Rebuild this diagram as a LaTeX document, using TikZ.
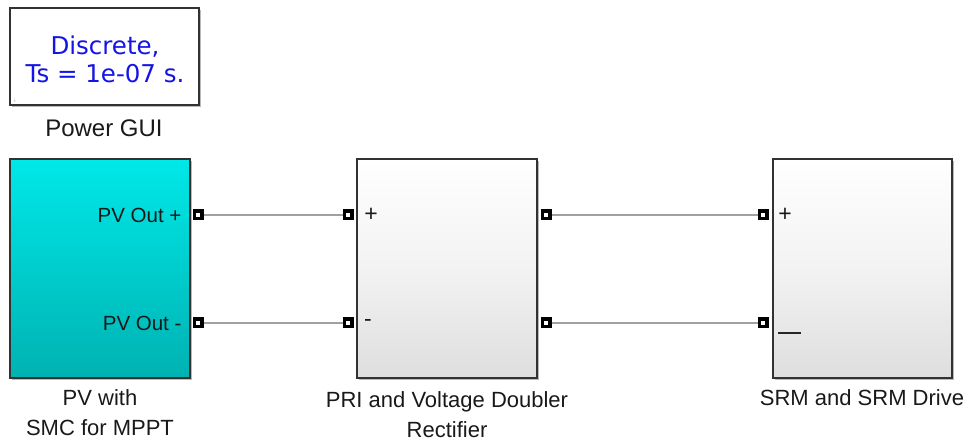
\documentclass[tikz,border=0pt]{standalone}
\usepackage{fontspec}
\setmainfont{Liberation Sans}
\newfontfamily\guifont{DejaVu Sans}
\usetikzlibrary{shadows}
\definecolor{guiblue}{RGB}{20,20,230}
\definecolor{cyantop}{RGB}{0,232,232}
\definecolor{cyanbot}{RGB}{0,178,178}
\definecolor{wirecol}{RGB}{160,160,160}
\definecolor{bordercol}{RGB}{50,50,50}
\tikzset{
  x=1pt,y=1pt,
  blk/.style={draw=bordercol, line width=1.3pt, minimum width=180pt, minimum height=219pt, inner sep=0pt,
    drop shadow={shadow xshift=2pt, shadow yshift=-2pt, fill=gray!55, opacity=1}},
  cyanblk/.style={blk, top color=cyantop, bottom color=cyanbot},
  whiteblk/.style={blk, top color=white, bottom color=black!13, middle color=white!95!black},
  port/.style={draw=black, fill=white, line width=3.5pt, minimum size=7.5pt, inner sep=0pt},
  wire/.style={draw=wirecol, line width=1.6pt},
  blklabel/.style={font=\fontsize{22}{30}\selectfont, align=center, text=black!90},
  portlabel/.style={font=\fontsize{20.5}{24}\selectfont, text=black!90},
  signlabel/.style={font=\fontsize{23}{24}\selectfont, text=black!90},
}
\begin{document}
\begin{tikzpicture}
\useasboundingbox (0,0) rectangle (969,446);
% Power GUI
\node[draw=bordercol, line width=1.3pt, fill=white, minimum width=189pt, minimum height=97pt, inner sep=0pt,
  drop shadow={shadow xshift=2pt, shadow yshift=-2pt, fill=gray!55, opacity=1}] (gui) at (104.5,389.5) {};
\node[font=\guifont\fontsize{24.5}{28}\selectfont, text=guiblue, align=center] (guitxt) at (105,387) {Discrete,\\Ts = 1e-07 s.};
\node[font=\fontsize{5}{5}\selectfont, text=gray!60] (guiarrow) at (15,346) {$\downarrow$};
\node[font=\fontsize{24}{28}\selectfont, text=black!90] (guilabel) at (104,318) {Power GUI};
% Blocks
\node[cyanblk] (pv) at (100,177.5) {};
\node[whiteblk] (pri) at (447,177.5) {};
\node[whiteblk, minimum width=179pt] (srm) at (862.5,177.5) {};
% Block labels
\node[blklabel] (pvlab) at (100,33) {PV with\\SMC for MPPT};
\node[blklabel] (prilab) at (447,31) {PRI and Voltage Doubler\\Rectifier};
\node[blklabel] (srmlab) at (862,48) {SRM and SRM Drive};
% Ports
\node[port] (pvp) at (198,231) {};
\node[port] (pvm) at (198,123) {};
\node[port] (prip) at (348,231) {};
\node[port] (prim) at (348,123) {};
\node[port] (prio1) at (546,231) {};
\node[port] (prio2) at (546,123) {};
\node[port] (srmp) at (763,231) {};
\node[port] (srmm) at (763,123) {};
% Port labels
\node[portlabel, anchor=east] (l1) at (185,231) {PV Out +};
\node[portlabel, anchor=east] (l2) at (185,123) {PV Out -};
\node[signlabel] (l3) at (371,231) {+};
\node[signlabel] (l4) at (368,123) {-};
\node[signlabel] (l5) at (785,231) {+};
\coordinate (dashA) at (778,113);
\coordinate (dashB) at (801,113);
\draw[line width=1.6pt, black!85] (dashA) -- (dashB);
% Wires
\draw[wire] (pvp.east) -- (prip.west);
\draw[wire] (pvm.east) -- (prim.west);
\draw[wire] (prio1.east) -- (srmp.west);
\draw[wire] (prio2.east) -- (srmm.west);
\end{tikzpicture}
\end{document}
